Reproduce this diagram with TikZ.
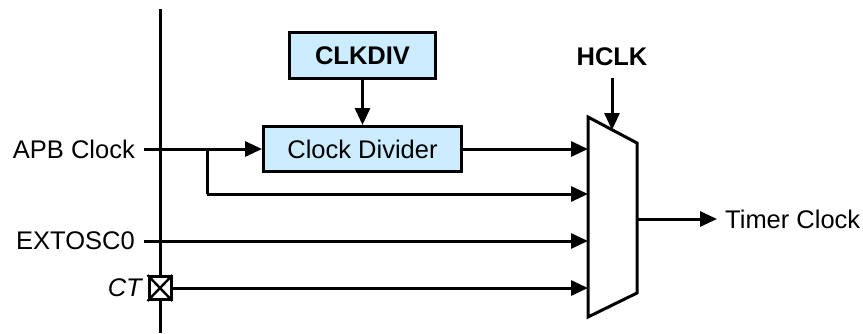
\documentclass[tikz,border=0pt]{standalone}
\usepackage{fontspec}
\setmainfont{Liberation Sans}
\usetikzlibrary{arrows.meta}
\definecolor{boxblue}{RGB}{204,236,255}
\tikzset{
  wire/.style={line width=3pt},
  arr/.style={wire,-{Triangle[length=17pt,width=15pt]}},
  blk/.style={draw,line width=3pt,fill=boxblue,inner sep=0pt},
  lbl/.style={font=\fontsize{25.5}{30}\selectfont,inner sep=0pt},
}
\begin{document}
\begin{tikzpicture}[x=1pt,y=-1pt]
\useasboundingbox (0,0) rectangle (863,333);
% vertical boundary
\coordinate (vtop) at (160,9);
\coordinate (vbot) at (160,333);
\draw[wire] (vtop) -- (vbot);
% blocks
\node[blk,minimum width=146pt,minimum height=46pt,lbl,font=\fontsize{25.5}{30}\selectfont\bfseries] (clkdiv) at (362.5,55.5) {CLKDIV};
\node[blk,minimum width=198pt,minimum height=45pt,lbl] (divider) at (362.5,149) {Clock Divider};
% mux
\coordinate (m1) at (588,117);
\coordinate (m2) at (637,143);
\coordinate (m3) at (637,293);
\coordinate (m4) at (588,317);
\draw[wire,line join=miter] (m1) -- (m2) -- (m3) -- (m4) -- cycle;
\coordinate (in1) at (588,149);
\coordinate (in2) at (588,194);
\coordinate (in3) at (588,241);
\coordinate (in4) at (588,288);
\coordinate (out) at (637,219);
\coordinate (sel) at (612,130);
% labels
\node[lbl,anchor=east] (apb) at (135,149) {APB Clock};
\node[lbl,anchor=east] (ext) at (135,241) {EXTOSC0};
\node[lbl,anchor=east,font=\fontsize{25.5}{30}\selectfont\itshape] (ct) at (142,288) {CT};
\node[lbl,font=\fontsize{25.5}{30}\selectfont\bfseries] (hclk) at (612,57) {HCLK};
\node[lbl,anchor=west] (timer) at (725,219) {Timer Clock};
% CT pad
\node[draw,line width=3pt,fill=white,minimum width=22pt,minimum height=23pt,inner sep=0pt] (pad) at (160,288) {};
\draw[line width=2.4pt] (pad.north west) -- (pad.south east) (pad.north east) -- (pad.south west);
% connectors
\coordinate (apbstart) at (144,149);
\coordinate (br) at (207,149);
\coordinate (brdown) at (207,194);
\coordinate (extstart) at (144,241);
\draw[arr] (apbstart) -- (divider.west);
\draw[wire] (br) -- (brdown);
\draw[arr] (brdown) -- (in2);
\draw[arr] (divider.east) -- (in1);
\draw[arr] (extstart) -- (in3);
\draw[arr] (pad.east) -- (in4);
\draw[arr] (clkdiv.south) -- (divider.north);
\draw[arr] (hclk.south |- 0,78) -- (sel);
\draw[arr] (out) -- (timer.west -| 717,0);
\end{tikzpicture}
\end{document}
